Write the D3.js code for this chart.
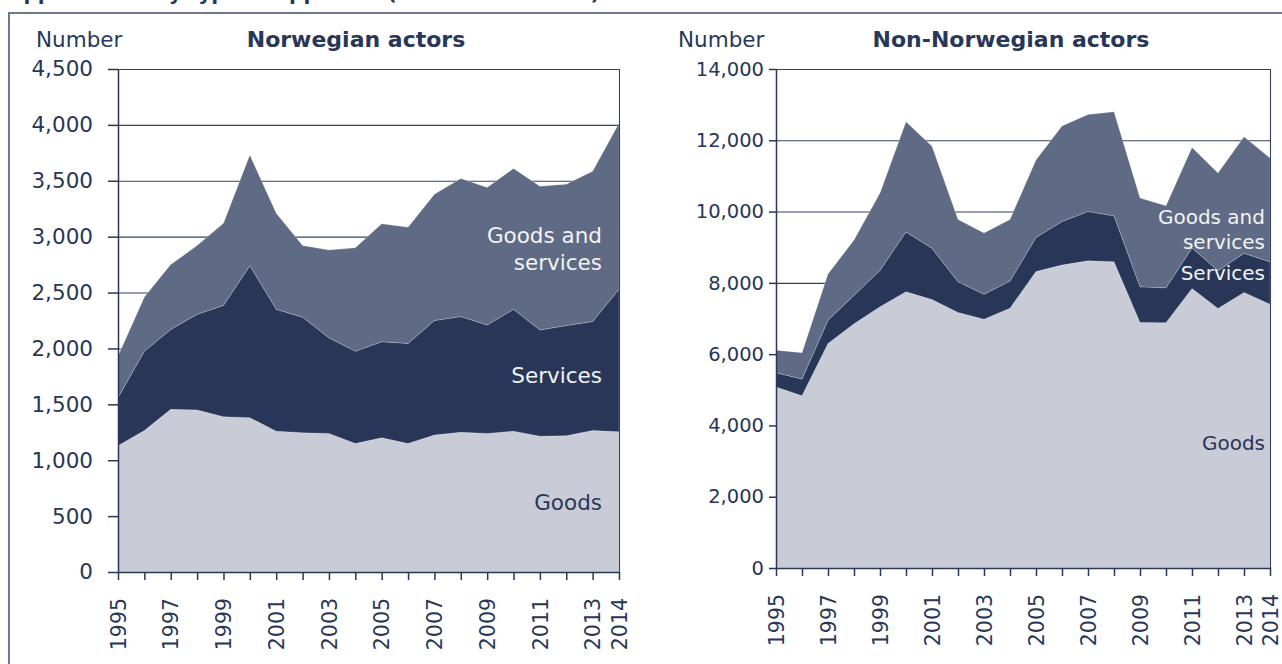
<!DOCTYPE html>
<html>
<head>
<meta charset="utf-8">
<script src="https://cdn.jsdelivr.net/npm/d3@7"></script>
<style>
  html, body { margin: 0; padding: 0; background: #ffffff; }
  svg { display: block; }
  text { font-family: "DejaVu Sans", Verdana, sans-serif; }
</style>
</head>
<body>
<svg id="chart" width="1282" height="664"></svg>
<script>
// Years on the x axis
const years = d3.range(1995, 2015);
const yearTickLabels = [1995, 1997, 1999, 2001, 2003, 2005, 2007, 2009, 2011, 2013, 2014];

// Norwegian actors (number of approvals by type)
const norGoods = [1130, 1265, 1455, 1450, 1390, 1380, 1260, 1245, 1240, 1150, 1200, 1150, 1225, 1250, 1240, 1260, 1215, 1220, 1265, 1255];
const norServices = [430, 710, 715, 855, 995, 1360, 1090, 1035, 855, 825, 860, 895, 1025, 1035, 970, 1090, 950, 985, 975, 1275];
const norGoodsAndServices = [370, 485, 580, 615, 735, 990, 860, 640, 785, 925, 1055, 1040, 1130, 1235, 1230, 1260, 1285, 1265, 1345, 1485];
const norTicks = [0, 500, 1000, 1500, 2000, 2500, 3000, 3500, 4000, 4500];

// Non-Norwegian actors
const forGoods = [5080, 4830, 6300, 6850, 7330, 7750, 7530, 7170, 6980, 7290, 8320, 8500, 8620, 8590, 6890, 6880, 7840, 7280, 7730, 7400];
const forServices = [400, 470, 650, 800, 1020, 1680, 1440, 860, 700, 760, 955, 1220, 1380, 1290, 1000, 980, 1140, 1060, 1100, 1190];
const forGoodsAndServices = [630, 740, 1300, 1550, 2170, 3090, 2860, 1750, 1720, 1730, 2175, 2680, 2720, 2920, 2490, 2300, 2820, 2740, 3270, 2910];
const forTicks = [0, 2000, 4000, 6000, 8000, 10000, 12000, 14000];

const seriesKeys = ["goods", "services", "goodsAndServices"];
const colors = { goods: "#c9ccd6", services: "#283758", goodsAndServices: "#5f6a85" };
const ink = "#283758";

const svg = d3.select("#chart");

// Page heading (runs above the visible area) and panel frame
svg.append("text")
  .attr("x", 8).attr("y", 0)
  .attr("font-size", 20).attr("font-weight", "bold")
  .attr("fill", ink)
  .text("Applications by type of applicant (number of actors)");

svg.append("rect")
  .attr("x", 9).attr("y", 13)
  .attr("width", 1300).attr("height", 700)
  .attr("fill", "none")
  .attr("stroke", "#6c7891").attr("stroke-width", 2);

function drawPanel(cfg) {
  const g = svg.append("g");
  const rows = years.map((yr, i) => ({
    year: yr,
    goods: cfg.goods[i],
    services: cfg.services[i],
    goodsAndServices: cfg.gs[i]
  }));

  const x = d3.scaleLinear().domain([1995, 2014]).range([cfg.left, cfg.right]);
  const y = d3.scaleLinear().domain([0, cfg.max]).range([cfg.bottom, cfg.top]);

  // horizontal gridlines
  g.append("g").selectAll("line")
    .data(cfg.ticks.filter(t => t > 0))
    .join("line")
    .attr("x1", cfg.left).attr("x2", cfg.right)
    .attr("y1", d => y(d) + 0.5).attr("y2", d => y(d) + 0.5)
    .attr("stroke", "#33405f").attr("stroke-width", 1.1);

  // stacked areas
  const stack = d3.stack().keys(seriesKeys);
  const layers = stack(rows);
  const area = d3.area()
    .x(d => x(d.data.year))
    .y0(d => y(d[0]))
    .y1(d => y(d[1]));

  g.append("g").selectAll("path")
    .data(layers)
    .join("path")
    .attr("d", area)
    .attr("fill", d => colors[d.key])
    .attr("stroke", "rgba(255,255,255,0.35)")
    .attr("stroke-width", 0.6);

  // top gridline and right border of the plot area
  g.append("line")
    .attr("x1", cfg.left).attr("x2", cfg.right)
    .attr("y1", y(cfg.max) + 0.5).attr("y2", y(cfg.max) + 0.5)
    .attr("stroke", "#33405f").attr("stroke-width", 1.1);
  g.append("line")
    .attr("x1", cfg.right + 0.5).attr("x2", cfg.right + 0.5)
    .attr("y1", cfg.top).attr("y2", cfg.bottom)
    .attr("stroke", "#33405f").attr("stroke-width", 1.1);

  // y axis
  const yAxis = d3.axisLeft(y)
    .tickValues(cfg.ticks)
    .tickFormat(d3.format(","))
    .tickSizeInner(cfg.yTick).tickSizeOuter(0).tickPadding(cfg.yPad);
  const ya = g.append("g")
    .attr("transform", `translate(${cfg.left},0)`)
    .call(yAxis);
  ya.select(".domain").attr("stroke", ink).attr("stroke-width", 1.5);
  ya.selectAll(".tick line").attr("stroke", ink).attr("stroke-width", 1.5);
  ya.selectAll(".tick text")
    .attr("fill", ink).attr("font-size", cfg.yFont)
    .attr("font-family", "DejaVu Sans, Verdana, sans-serif");

  // x axis: a tick for every year, labels on selected years
  const xAxis = d3.axisBottom(x)
    .tickValues(years)
    .tickFormat(d => yearTickLabels.includes(d) ? String(d) : "")
    .tickSizeInner(8).tickSizeOuter(0);
  const xa = g.append("g")
    .attr("transform", `translate(0,${cfg.bottom})`)
    .call(xAxis);
  xa.select(".domain").attr("stroke", ink).attr("stroke-width", 1.5);
  xa.selectAll(".tick line").attr("stroke", ink).attr("stroke-width", 1.5);
  xa.selectAll(".tick text")
    .attr("fill", ink).attr("font-size", 20.5)
    .attr("font-family", "DejaVu Sans, Verdana, sans-serif")
    .attr("text-anchor", "end")
    .attr("dy", "0.35em")
    .attr("transform", `translate(0,${cfg.xLabelGap}) rotate(-90)`)
    .attr("x", 0).attr("y", 0);

  // unit and panel title
  g.append("text")
    .attr("x", cfg.unitX).attr("y", 47)
    .attr("font-size", 21.5).attr("fill", ink)
    .text("Number");
  g.append("text")
    .attr("x", cfg.titleX).attr("y", 47)
    .attr("font-size", 22).attr("font-weight", "bold")
    .attr("text-anchor", "middle").attr("fill", ink)
    .text(cfg.title);

  // series labels inside the areas
  cfg.labels.forEach(l => {
    g.append("text")
      .attr("x", l.x).attr("y", l.y)
      .attr("font-size", l.size).attr("text-anchor", "end")
      .attr("fill", l.color)
      .text(l.text);
  });
}

drawPanel({
  goods: norGoods, services: norServices, gs: norGoodsAndServices,
  ticks: norTicks, max: 4500,
  left: 118, right: 619, top: 69, bottom: 572,
  yTick: 10, yPad: 15, yFont: 21.5, xLabelGap: 26,
  unitX: 36, titleX: 356, title: "Norwegian actors",
  labels: [
    { text: "Goods and", x: 602, y: 243, size: 21.5, color: "#f2f3f6" },
    { text: "services", x: 602, y: 270, size: 21.5, color: "#f2f3f6" },
    { text: "Services", x: 602, y: 383, size: 21.5, color: "#f2f3f6" },
    { text: "Goods", x: 602, y: 510, size: 21.5, color: ink }
  ]
});

drawPanel({
  goods: forGoods, services: forServices, gs: forGoodsAndServices,
  ticks: forTicks, max: 14000,
  left: 776, right: 1270, top: 69, bottom: 568,
  yTick: 7, yPad: 5, yFont: 19.5, xLabelGap: 26,
  unitX: 678, titleX: 1011, title: "Non-Norwegian actors",
  labels: [
    { text: "Goods and", x: 1265, y: 224, size: 20, color: "#f2f3f6" },
    { text: "services", x: 1265, y: 249, size: 20, color: "#f2f3f6" },
    { text: "Services", x: 1265, y: 280, size: 20, color: "#f2f3f6" },
    { text: "Goods", x: 1265, y: 450, size: 20, color: ink }
  ]
});
</script>
</body>
</html>
